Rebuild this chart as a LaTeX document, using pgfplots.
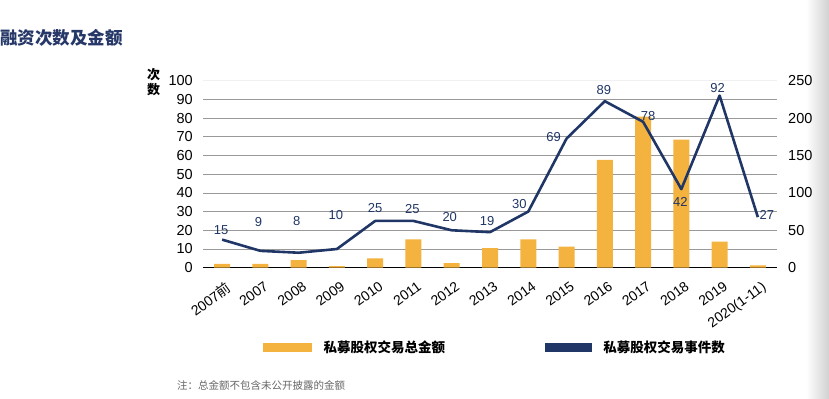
\documentclass[border=0pt]{standalone}
\usepackage{fontspec}
\setmainfont{Liberation Sans}
\newfontfamily\cjk{Noto Sans CJK SC}
\usepackage{pgfplots}
\pgfplotsset{compat=1.18}
\definecolor{barc}{RGB}{244,178,62}
\definecolor{linec}{RGB}{32,54,102}
\definecolor{titlec}{RGB}{38,56,104}
\begin{document}
\begin{tikzpicture}
\path[use as bounding box] (0,0) rectangle (829bp,399bp);
\shade[left color=white, right color=black!18] (806bp,0) rectangle (829bp,399bp);
\pgfplotsset{base/.style={scale only axis, width=574bp, height=187.1bp,
  at={(203bp,131.3bp)}, anchor=south west, xmin=-0.5, xmax=14.5, ymin=0,
  /pgf/number format/assume math mode=true,
  tick label style={font=\fontsize{14.5bp}{16bp}\selectfont},
  xtick style={draw=none}, ytick style={draw=none}, major tick length=0pt}}

\begin{axis}[base, ymax=100, axis x line*=bottom, axis y line*=left,
  y axis line style={draw=none}, x axis line style={black, line width=1.1bp, -},
  ytick={0,10,...,90}, extra y ticks={100}, extra y tick style={grid style={black!6}},
  ymajorgrids, grid style={black!40, line width=0.7bp},
  yticklabel style={anchor=east, inner sep=0pt, xshift=-10bp},
  xtick={0,...,14},
  xticklabels={{2007{\cjk 前}},2007,2008,2009,2010,2011,2012,2013,2014,2015,2016,2017,2018,2019,2020(1-11)},
  xticklabel style={rotate=36, anchor=north east, inner sep=0pt, xshift=-5bp, yshift=-12bp,
    font=\fontsize{14bp}{16bp}\selectfont},
  legend columns=2,
  legend style={at={(0.1045,-0.424)}, anchor=west, draw=none, fill=none, inner sep=0pt,
    nodes={inner sep=0pt, anchor=west, font=\cjk\bfseries\fontsize{13.5bp}{15bp}\selectfont},
    /tikz/every odd column/.append style={column sep=12bp},
    /tikz/every even column/.append style={column sep=100bp}},
  ]
\addlegendimage{legend image code/.code={\fill[barc] (0bp,-4bp) rectangle (48bp,4bp);}}
\addlegendentry{私募股权交易总金额}
\addlegendimage{legend image code/.code={\fill[linec] (0bp,-4bp) rectangle (46bp,4bp);}}
\addlegendentry{私募股权交易事件数}
\end{axis}

\begin{axis}[base, ymax=250, axis y line*=right, axis x line=none,
  y axis line style={draw=none}, ytick={0,50,...,250},
  yticklabel style={anchor=west, inner sep=0pt, xshift=11bp},
  ybar, bar width=16bp]
\addplot[fill=barc, draw=none] coordinates {
(0,5) (1,5) (2,10) (3,2) (4,12.5) (5,38) (6,6) (7,26) (8,38) (9,28)
(10,144) (11,202) (12,171) (13,35) (14,3)};
\end{axis}

\begin{axis}[base, ymax=100, axis lines=none]
\addplot[linec, line width=2.6bp, mark=none, line join=round,
  nodes near coords, point meta=explicit,
  visualization depends on={value \thisrow{dx} \as \dx},
  visualization depends on={value \thisrow{dy} \as \dy},
  every node near coord/.append style={anchor=center, inner sep=0pt,
    xshift=\dx bp, yshift=\dy bp, text=linec,
    font=\fontsize{13bp}{15bp}\selectfont}]
  table[meta=y] {
x y dx dy
0 15 -1 10
1 9 -2 29
2 8 -2 32
3 10 -1 34
4 25 0 13
5 25 -1 12
6 20 -2 13
7 19 -3 11
8 30 -9 8
9 69 -13 2
10 89 -1 11
11 78 5 6
12 42 -1 -13
13 92 -2 8
14 27 9 2
};
\end{axis}

\node[anchor=west, inner sep=0pt, text=titlec, font=\cjk\bfseries\fontsize{17.5bp}{20bp}\selectfont] at (0bp,360.7bp) {融资次数及金额};
\node[inner sep=0pt, align=center, font=\cjk\bfseries\fontsize{13bp}{15bp}\selectfont] at (153.5bp,316.5bp) {次\\数};
\node[anchor=west, inner sep=0pt, text=black!60, font=\cjk\fontsize{10.5bp}{12bp}\selectfont] at (177bp,14bp) {注：总金额不包含未公开披露的金额};
\end{tikzpicture}
\end{document}
